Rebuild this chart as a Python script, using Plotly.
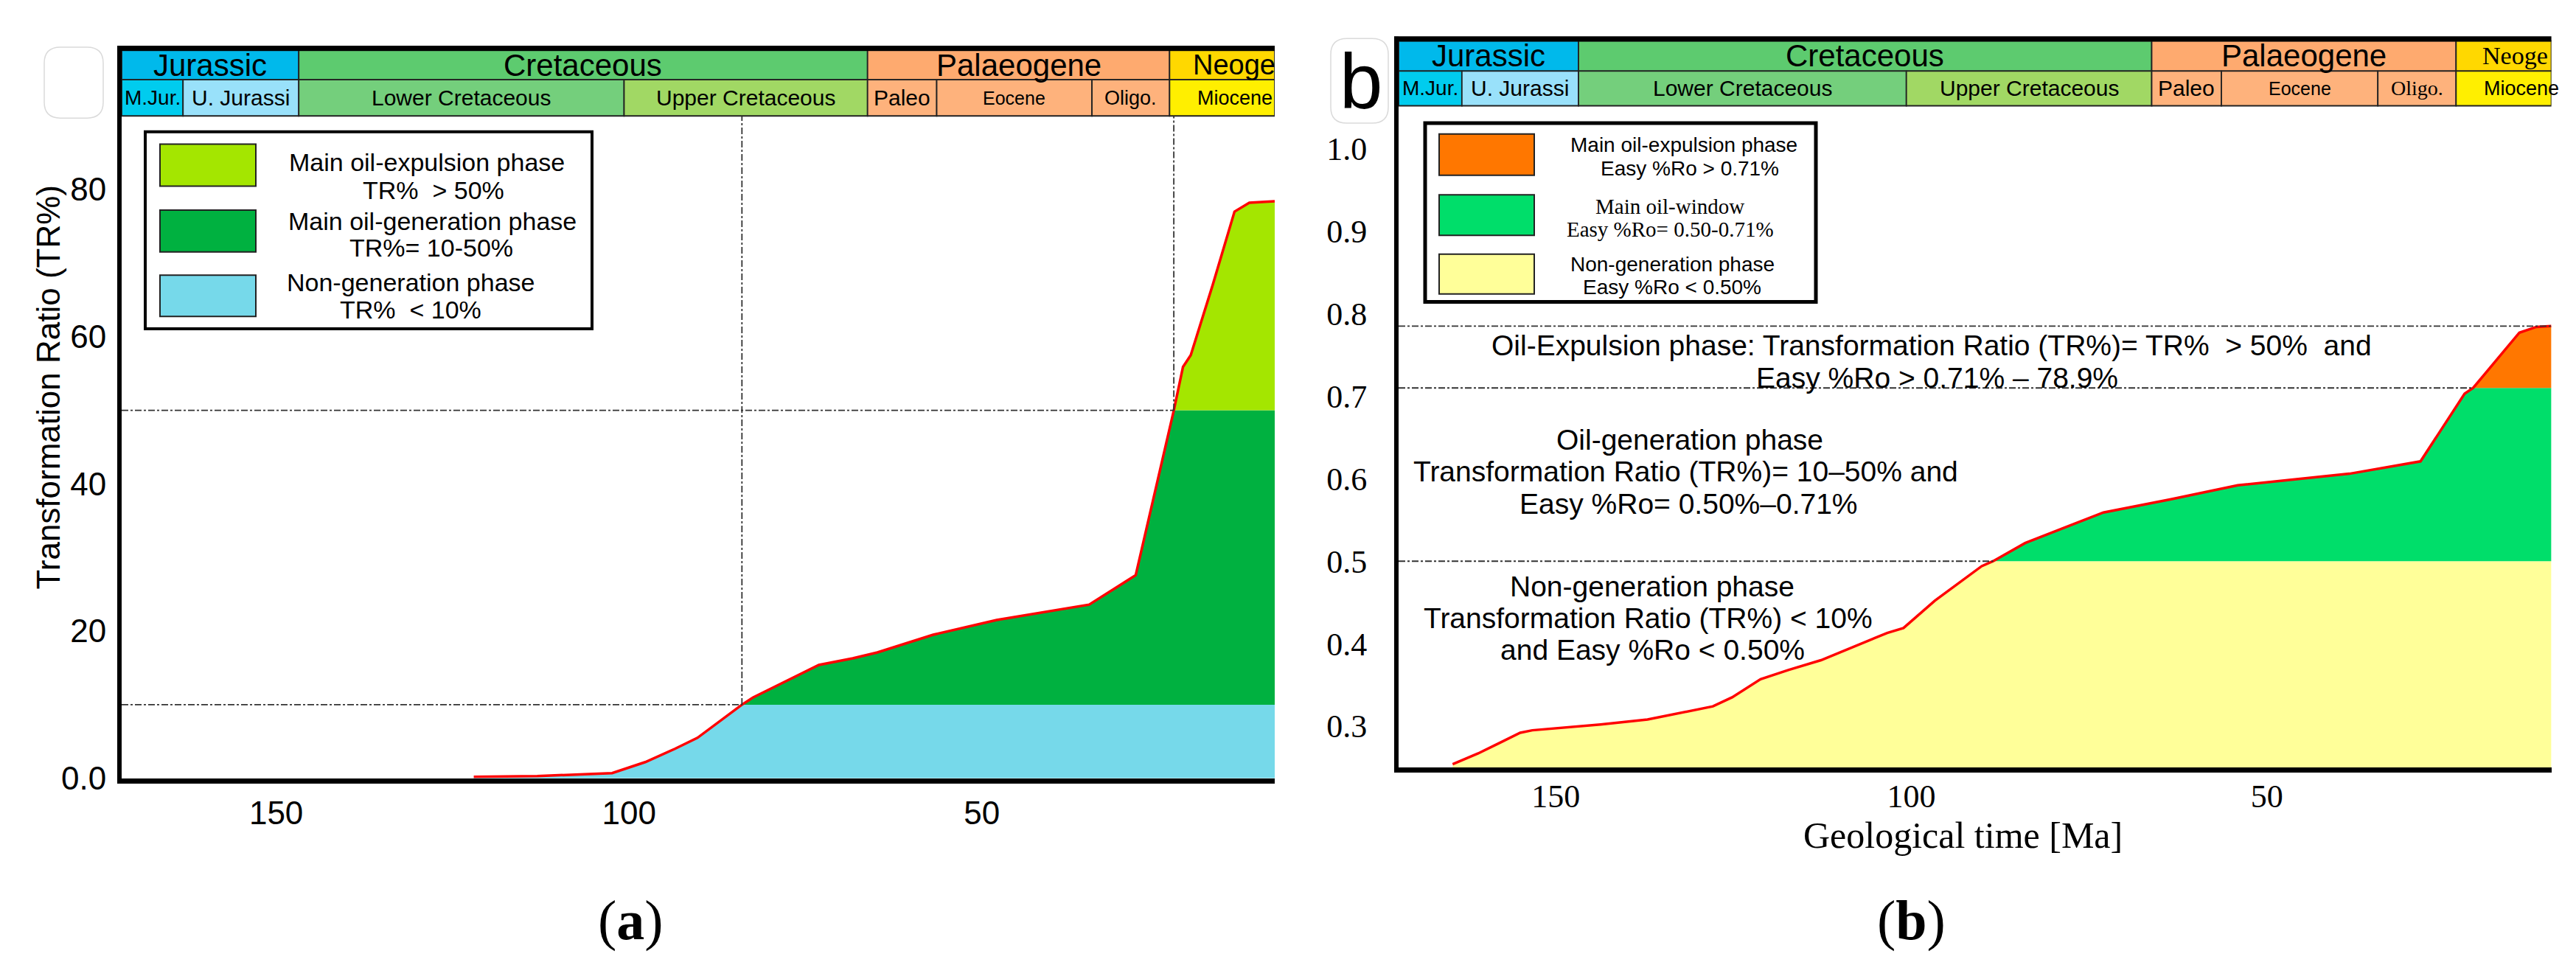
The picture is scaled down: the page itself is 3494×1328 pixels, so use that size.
import plotly.graph_objects as go
import numpy as np

W, H = 3494, 1328

# ---------------- data ----------------
# Panel (a): transformation ratio (TR%) vs geological time (Ma)
age_a = [122.0, 113.0, 102.4, 97.7, 93.5, 90.3, 84.0, 82.4, 73.1, 68.3, 64.8, 56.9,
         47.9, 34.8, 28.2, 22.8, 21.5, 20.4, 17.3, 14.2, 12.1, 8.5]
tr_a = [0.2, 0.3, 0.7, 2.2, 4.0, 5.5, 10.0, 11.0, 15.4, 16.3, 17.1, 19.5,
        21.5, 23.6, 27.6, 50.0, 55.9, 57.5, 67.0, 77.0, 78.2, 78.4]

# Panel (b): Easy %Ro vs geological time (Ma)
age_b = [164.5, 160.9, 155.0, 153.3, 143.7, 137.1, 127.9, 125.2, 121.2, 117.3, 112.7,
         103.4, 101.1, 96.7, 90.1, 88.5, 84.0, 77.4, 73.0, 63.5, 54.1, 38.4, 28.4,
         22.2, 21.0, 14.5, 12.1, 10.0]
ro_b = [0.254, 0.267, 0.292, 0.295, 0.302, 0.308, 0.324, 0.335, 0.357, 0.368, 0.380,
        0.413, 0.419, 0.452, 0.494, 0.500, 0.522, 0.544, 0.559, 0.575, 0.592, 0.606, 0.621,
        0.703, 0.710, 0.777, 0.784, 0.785]

tr_limits = [10, 50]
ro_limits = [0.50, 0.71]
ro_peak = 0.785

period_names = ["Jurassic", "Cretaceous", "Palaeogene", "Neoge"]
period_bounds = [175.0, 146.8, 66.2, 23.4, 0.0]
epoch_names = ["M.Jur.", "U. Jurassi", "Lower Cretaceous", "Upper Cretaceous",
               "Paleo", "Eocene", "Oligo.", "Miocene"]
epoch_bounds = [175.0, 163.2, 146.8, 100.7, 66.2, 56.4, 34.4, 23.4, 0.0]

x_tickvals = [150, 100, 50]
x_ticktext = ["150", "100", "50"]
ya_tickvals = [0, 20, 40, 60, 80]
ya_ticktext = ["0.0", "20", "40", "60", "80"]
yb_tickvals = [0.3, 0.4, 0.5, 0.6, 0.7, 0.8, 0.9, 1.0]
yb_ticktext = ["0.3", "0.4", "0.5", "0.6", "0.7", "0.8", "0.9", "1.0"]

legend_a_labels = [["Main oil-expulsion phase", "TR%\u00a0 > 50%"],
                   ["Main oil-generation phase", "TR%= 10-50%"],
                   ["Non-generation phase", "TR%\u00a0 < 10%"]]
legend_b_labels = [["Main oil-expulsion phase", "Easy %Ro > 0.71%"],
                   ["Main oil-window", "Easy %Ro= 0.50-0.71%"],
                   ["Non-generation phase", "Easy %Ro < 0.50%"]]
phase_texts_b = [
    ["Oil-Expulsion phase: Transformation Ratio (TR%)= TR%\u00a0 > 50%\u00a0 and",
     "Easy %Ro > 0.71% \u2013 78.9%"],
    ["Oil-generation phase", "Transformation Ratio (TR%)= 10\u201350% and",
     "Easy %Ro= 0.50%\u20130.71%"],
    ["Non-generation phase", "Transformation Ratio (TR%) < 10%", "and Easy %Ro < 0.50%"],
]

# ---------------- styles ----------------
SANS = "Liberation Sans, Arial, sans-serif"
SERIF = "Liberation Serif, Times New Roman, serif"
colors_a = ["#A4E600", "#00B140", "#76D9EA"]   # expulsion, generation, non-generation
colors_b = ["#FF7700", "#00DE6A", "#FFFF99"]
period_colors = ["#00B9EB", "#5DCB6F", "#FEAA6F", "#FFD800"]
epoch_colors = ["#00CCEE", "#99E1FA", "#74CF7C", "#A1D864", "#FEB27C", "#FEB27C", "#FEB27C", "#FFEF00"]
epoch_sizes = [28, 30, 30, 30, 30, 25, 27, 27]
RED = "#FF0000"


def px(x):
    return x / W


def py(y):
    return 1 - y / H


# panel geometry in pixels
PA = dict(xa="x", ya="y", x0=157, x1=1721, top=152, bot=1067, htop=58.5, hmid=102,
          xr=[171.9, 8.5], yr=[0, 90])
PB = dict(xa="x2", ya="y2", x0=1889, x1=3452.6, top=138, bot=1052, htop=45.5, hmid=90,
          xr=[172.1, 10.0], yr=[0.25, 1.052])

fig = go.Figure()

# ---------------- traces ----------------
a = np.array(tr_a)
fig.add_trace(go.Scatter(x=age_a, y=np.minimum(a, tr_limits[0]), fill="tozeroy", fillcolor=colors_a[2],
                         mode="lines", line=dict(width=0, color=colors_a[2]), xaxis="x", yaxis="y", hoverinfo="skip"))
fig.add_trace(go.Scatter(x=age_a, y=np.minimum(a, tr_limits[1]), fill="tonexty", fillcolor=colors_a[1],
                         mode="lines", line=dict(width=0, color=colors_a[1]), xaxis="x", yaxis="y", hoverinfo="skip"))
fig.add_trace(go.Scatter(x=age_a, y=a, fill="tonexty", fillcolor=colors_a[0],
                         mode="lines", line=dict(width=0, color=colors_a[0]), xaxis="x", yaxis="y", hoverinfo="skip"))
fig.add_trace(go.Scatter(x=age_a, y=a, mode="lines", line=dict(color=RED, width=3.5),
                         xaxis="x", yaxis="y", hoverinfo="skip"))

b = np.array(ro_b)
fig.add_trace(go.Scatter(x=age_b, y=np.minimum(b, ro_limits[0]), fill="tozeroy", fillcolor=colors_b[2],
                         mode="lines", line=dict(width=0, color=colors_b[2]), xaxis="x2", yaxis="y2", hoverinfo="skip"))
fig.add_trace(go.Scatter(x=age_b, y=np.minimum(b, ro_limits[1]), fill="tonexty", fillcolor=colors_b[1],
                         mode="lines", line=dict(width=0, color=colors_b[1]), xaxis="x2", yaxis="y2", hoverinfo="skip"))
fig.add_trace(go.Scatter(x=age_b, y=b, fill="tonexty", fillcolor=colors_b[0],
                         mode="lines", line=dict(width=0, color=colors_b[0]), xaxis="x2", yaxis="y2", hoverinfo="skip"))
fig.add_trace(go.Scatter(x=age_b, y=b, mode="lines", line=dict(color=RED, width=3.5),
                         xaxis="x2", yaxis="y2", hoverinfo="skip"))

shapes = []
annots = []

# ---------------- geologic header ----------------
def header(P, serif_names=()):
    lo, hi = min(P["xr"]), max(P["xr"])
    clamp = lambda v: min(max(v, lo), hi)
    rows = [(period_names, period_bounds, period_colors, P["htop"] + 3, P["hmid"]),
            (epoch_names, epoch_bounds, epoch_colors, P["hmid"], P["top"])]
    for ri, (names, bounds, cols, yt, yb) in enumerate(rows):
        for i, name in enumerate(names):
            b0, b1 = clamp(bounds[i]), clamp(bounds[i + 1])
            shapes.append(dict(type="rect", xref=P["xa"], yref="paper", x0=b0, x1=b1,
                               y0=py(yb), y1=py(yt), fillcolor=cols[i],
                               line=dict(color="#222222", width=1.8), layer="above"))
            fam = SERIF if name in serif_names else SANS
            size = 42 if ri == 0 else epoch_sizes[i]
            if name == "Neoge":
                size = 34 if P is PB else 38
            if name == "Oligo." and P is PB:
                size = 28
            if name in ("Neoge", "Miocene"):
                shift = (30 if P is PA else 34) if ri == 0 else 36
                annots.append(dict(xref=P["xa"], yref="paper", x=b0, y=py((yt + yb) / 2),
                                   xanchor="left", yanchor="middle", xshift=shift,
                                   text=name, showarrow=False, font=dict(family=fam, size=size, color="black")))
            else:
                annots.append(dict(xref=P["xa"], yref="paper", x=(b0 + b1) / 2, y=py((yt + yb) / 2),
                                   xanchor="center", yanchor="middle",
                                   text=name, showarrow=False, font=dict(family=fam, size=size, color="black")))
    # thick top border and left frame
    shapes.append(dict(type="line", xref="paper", yref="paper", x0=px(P["x0"] - 6), x1=px(P["x1"]),
                       y0=py(P["htop"]), y1=py(P["htop"]), line=dict(color="black", width=7)))
    shapes.append(dict(type="line", xref="paper", yref="paper", x0=px(P["x0"] - 3), x1=px(P["x0"] - 3),
                       y0=py(P["bot"]), y1=py(P["htop"] - 3), line=dict(color="black", width=6)))


header(PA)
header(PB, serif_names=("Neoge", "Oligo."))

# ---------------- dashed guide lines ----------------
DASH = dict(color="#333333", width=1.8, dash="dashdot")
for lim in tr_limits:
    xc = float(np.interp(lim, tr_a, age_a))
    shapes.append(dict(type="line", xref="x", yref="y", x0=PA["xr"][0], x1=xc, y0=lim, y1=lim, line=DASH))
    shapes.append(dict(type="line", xref="x", yref="y", x0=xc, x1=xc, y0=lim, y1=PA["yr"][1], line=DASH))
for lim in ro_limits:
    xc = float(np.interp(lim, ro_b, age_b))
    shapes.append(dict(type="line", xref="x2", yref="y2", x0=PB["xr"][0], x1=xc, y0=lim, y1=lim, line=DASH))
shapes.append(dict(type="line", xref="x2", yref="y2", x0=PB["xr"][0], x1=PB["xr"][1],
                   y0=ro_peak, y1=ro_peak, line=DASH))

# ---------------- legends ----------------
def legend(box, sw_x, rows, colors, labels, line_pos, fonts, sizes, bw):
    x0, y0, x1, y1 = box
    shapes.append(dict(type="rect", xref="paper", yref="paper", x0=px(x0), x1=px(x1), y0=py(y1), y1=py(y0),
                       fillcolor="white", line=dict(color="black", width=bw), layer="above"))
    for i, (r0, r1) in enumerate(rows):
        shapes.append(dict(type="rect", xref="paper", yref="paper", x0=px(sw_x[0]), x1=px(sw_x[1]),
                           y0=py(r1), y1=py(r0), fillcolor=colors[i],
                           line=dict(color="#222222", width=2), layer="above"))
        for j in range(2):
            cx, cy = line_pos[i][j]
            annots.append(dict(xref="paper", yref="paper", x=px(cx), y=py(cy), xanchor="center",
                               yanchor="middle", text=labels[i][j], showarrow=False,
                               font=dict(family=fonts[i], size=sizes[i], color="black")))


legend((189, 174, 795, 446), (209, 339), [(191, 249), (282, 340), (372, 429)], colors_a, legend_a_labels,
       [[(571, 216), (580, 255)], [(578, 297), (577, 334)], [(549, 382), (549, 420)]],
       [SANS, SANS, SANS], [34, 34, 34], 4)
legend((1925, 162, 2455, 409), (1944, 2073), [(177, 234), (261, 317), (343, 398)], colors_b, legend_b_labels,
       [[(2276, 192), (2284, 225)], [(2257, 277), (2257, 309)], [(2260, 357), (2260, 389)]],
       [SANS, SERIF, SANS], [28, 29, 28], 5)

# ---------------- panel (b) phase texts ----------------
phase_pos = [[(2612, 469), (2619, 514)],
             [(2284, 599), (2278, 643), (2282, 688)],
             [(2233, 802), (2227, 846), (2233, 890)]]
for lines, pos in zip(phase_texts_b, phase_pos):
    for t, (cx, cy) in zip(lines, pos):
        annots.append(dict(xref="paper", yref="paper", x=px(cx), y=py(cy), xanchor="center", yanchor="middle",
                           text=t, showarrow=False, font=dict(family=SANS, size=39, color="black")))

# ---------------- labels / titles ----------------
annots.append(dict(xref="paper", yref="paper", x=px(57), y=py(527), text="Transformation Ratio (TR%)",
                   textangle=-90, showarrow=False, xanchor="center", yanchor="middle",
                   font=dict(family=SANS, size=44, color="black")))
annots.append(dict(xref="paper", yref="paper", x=px(2654), y=py(1146), text="Geological time [Ma]",
                   showarrow=False, xanchor="center", yanchor="middle",
                   font=dict(family=SERIF, size=50, color="black")))
annots.append(dict(xref="paper", yref="paper", x=px(847), y=py(1263), text="(<b>a</b>)",
                   showarrow=False, xanchor="center", yanchor="middle",
                   font=dict(family=SERIF, size=76, color="black")))
annots.append(dict(xref="paper", yref="paper", x=px(2584), y=py(1263), text="(<b>b</b>)",
                   showarrow=False, xanchor="center", yanchor="middle",
                   font=dict(family=SERIF, size=76, color="black")))


def rounded(x0, y0, x1, y1, r):
    P = lambda x, y: f"{x / W:.6f},{1 - y / H:.6f}"
    return (f"M {P(x0 + r, y0)} L {P(x1 - r, y0)} Q {P(x1, y0)} {P(x1, y0 + r)} "
            f"L {P(x1, y1 - r)} Q {P(x1, y1)} {P(x1 - r, y1)} L {P(x0 + r, y1)} "
            f"Q {P(x0, y1)} {P(x0, y1 - r)} L {P(x0, y0 + r)} Q {P(x0, y0)} {P(x0 + r, y0)} Z")


shapes.append(dict(type="path", xref="paper", yref="paper", path=rounded(52, 57, 132, 155, 22),
                   line=dict(color="#DADADA", width=1.5)))
shapes.append(dict(type="path", xref="paper", yref="paper", path=rounded(1797, 45, 1875, 162, 22),
                   line=dict(color="#DADADA", width=1.5)))
annots.append(dict(xref="paper", yref="paper", x=px(1838), y=py(104), text="b", showarrow=False,
                   xanchor="center", yanchor="middle", font=dict(family=SANS, size=105, color="black")))

# ---------------- layout ----------------
common_ax = dict(showgrid=False, zeroline=False, showline=True, linecolor="black", ticks="")
fig.update_layout(
    width=W, height=H, margin=dict(l=0, r=0, t=0, b=0), paper_bgcolor="white", plot_bgcolor="white",
    showlegend=False, shapes=shapes, annotations=annots,
    xaxis=dict(domain=[px(PA["x0"]), px(PA["x1"])], range=PA["xr"], anchor="y", linewidth=7,
               tickvals=x_tickvals, ticktext=x_ticktext, ticklabelstandoff=2,
               tickfont=dict(family=SANS, size=44, color="black"), **common_ax),
    yaxis=dict(domain=[py(PA["bot"]), py(PA["top"])], range=PA["yr"], anchor="x", linewidth=6,
               tickvals=ya_tickvals, ticktext=ya_ticktext, ticklabelstandoff=6,
               tickfont=dict(family=SANS, size=44, color="black"), **common_ax),
    xaxis2=dict(domain=[px(PB["x0"]), px(PB["x1"])], range=PB["xr"], anchor="y2", linewidth=7,
                tickvals=x_tickvals, ticktext=x_ticktext, ticklabelstandoff=-6,
                tickfont=dict(family=SERIF, size=44, color="black"), **common_ax),
    yaxis2=dict(domain=[py(PB["bot"]), py(PB["top"])], range=PB["yr"], anchor="x2", linewidth=6,
                tickvals=yb_tickvals, ticktext=yb_ticktext, ticklabelstandoff=28,
                tickfont=dict(family=SERIF, size=44, color="black"), **common_ax),
)

fig.write_html("out.html", config={"displayModeBar": False})
